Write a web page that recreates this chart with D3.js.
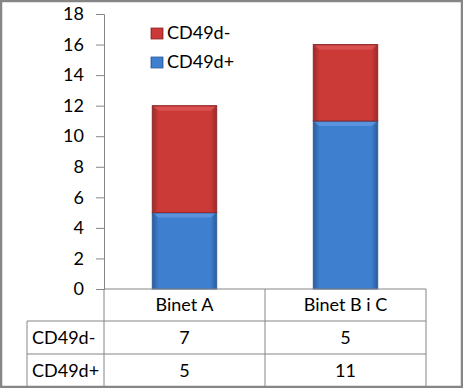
<!DOCTYPE html>
<html>
<head>
<meta charset="utf-8">
<script src="https://cdn.jsdelivr.net/npm/d3@7"></script>
<style>
  body { margin: 0; background: #fff; }
  text { font-family: Lato, "Open Sans", sans-serif; fill: #000; }
</style>
</head>
<body>
<script>
// data
const categories = ["Binet A", "Binet B i C"];
const seriesNames = ["CD49d+", "CD49d-"];
const cd49dPlus = [5, 11];
const cd49dMinus = [7, 5];
const yTicks = [0, 2, 4, 6, 8, 10, 12, 14, 16, 18];

const W = 463, H = 388;
const plotL = 104, plotR = 426, plotT = 14, plotB = 289;

var svg = d3.select("body").append("svg")
  .attr("width", W).attr("height", H);

// frame
svg.append("rect").attr("x", 1).attr("y", 1).attr("width", W - 2).attr("height", H - 2)
  .attr("fill", "#fff").attr("stroke", "#868686").attr("stroke-width", 2.5);

// gradients
var defs = svg.append("defs");
function grad(id, edge, mid) {
  var g = defs.append("linearGradient").attr("id", id)
    .attr("x1", 0).attr("x2", 1).attr("y1", 0).attr("y2", 0);
  g.append("stop").attr("offset", "0%").attr("stop-color", edge);
  g.append("stop").attr("offset", "10%").attr("stop-color", mid);
  g.append("stop").attr("offset", "90%").attr("stop-color", mid);
  g.append("stop").attr("offset", "100%").attr("stop-color", edge);
}
grad("gBlue", "#2b5c9c", "#3f7fcf");
grad("gRed", "#9c2b2b", "#cc3a37");

var x = d3.scaleBand().domain(categories).range([plotL, plotR]).paddingInner(0).paddingOuter(0);
var y = d3.scaleLinear().domain([0, 18]).range([plotB, plotT]);

// y axis
var yAxis = d3.axisLeft(y).tickValues(yTicks).tickSize(8).tickPadding(12);
var ga = svg.append("g").attr("transform", "translate(" + plotL + ",0)").call(yAxis);
ga.select(".domain").attr("stroke", "#868686");
ga.selectAll(".tick line").attr("stroke", "#868686");
ga.selectAll(".tick text").attr("font-size", 18).attr("font-family", "Lato, sans-serif");

// stacked bars
var stackData = categories.map((c, i) => ({ cat: c, "CD49d+": cd49dPlus[i], "CD49d-": cd49dMinus[i] }));
var stack = d3.stack().keys(seriesNames)(stackData);
var fills = { "CD49d+": "url(#gBlue)", "CD49d-": "url(#gRed)" };
var bw = x.bandwidth() * 0.4;

stack.forEach(function (s) {
  var g = svg.append("g");
  g.selectAll("rect").data(s).enter().append("rect")
    .attr("x", d => x(d.data.cat) + (x.bandwidth() - bw) / 2)
    .attr("y", d => y(d[1]))
    .attr("width", bw)
    .attr("height", d => y(d[0]) - y(d[1]))
    .attr("fill", fills[s.key])
    .attr("stroke", s.key === "CD49d+" ? "#2f5f9a" : "#8f2a2a")
    .attr("stroke-width", 1);
  // top bevel highlight
  g.selectAll("path").data(s).enter().append("path")
    .attr("d", function (d) {
      var x0 = x(d.data.cat) + (x.bandwidth() - bw) / 2, y0 = y(d[1]);
      return "M" + (x0 + 1) + "," + (y0 + 1) + "L" + (x0 + bw - 1) + "," + (y0 + 1) +
        "L" + (x0 + bw - 6) + "," + (y0 + 5) + "L" + (x0 + 6) + "," + (y0 + 5) + "Z";
    })
    .attr("fill", s.key === "CD49d+" ? "#6aa2e6" : "#e06060")
    .attr("opacity", 0.6);
});

// legend
var legend = [{ name: "CD49d-", fill: "url(#gRed)", y: 39 }, { name: "CD49d+", fill: "url(#gBlue)", y: 68 }];
var lg = svg.append("g").selectAll("g").data(legend).enter().append("g");
lg.append("rect").attr("x", 151).attr("y", d => d.y - 11).attr("width", 12).attr("height", 11)
  .attr("fill", d => d.fill).attr("stroke", d => d.name === "CD49d+" ? "#2f5f9a" : "#8f2a2a")
  .attr("stroke-width", 0.8);
lg.append("text").attr("x", 167).attr("y", d => d.y).attr("font-size", 18).text(d => d.name);

// data table
var tableLeft = 27;
var grid = svg.append("g").attr("stroke", "#868686").attr("stroke-width", 1).attr("fill", "none");
grid.append("line").attr("x1", plotL).attr("x2", plotR).attr("y1", plotB).attr("y2", plotB);
[321, 354].forEach(yy => grid.append("line").attr("x1", tableLeft).attr("x2", plotR).attr("y1", yy).attr("y2", yy));
grid.append("line").attr("x1", tableLeft).attr("x2", tableLeft).attr("y1", 321).attr("y2", 386);
[plotL, x(categories[1]), plotR].forEach(xx =>
  grid.append("line").attr("x1", xx).attr("x2", xx).attr("y1", plotB).attr("y2", 386));

svg.append("g").selectAll("text").data(categories).enter().append("text")
  .attr("x", d => x(d) + x.bandwidth() / 2).attr("y", 311)
  .attr("text-anchor", "middle").attr("font-size", 18).text(d => d);

var rows = [{ name: "CD49d-", vals: cd49dMinus, y: 344 }, { name: "CD49d+", vals: cd49dPlus, y: 377 }];
rows.forEach(function (r) {
  svg.append("text").attr("x", 32).attr("y", r.y).attr("font-size", 18).text(r.name);
  svg.append("g").selectAll("text").data(r.vals).enter().append("text")
    .attr("x", (d, i) => x(categories[i]) + x.bandwidth() / 2).attr("y", r.y)
    .attr("text-anchor", "middle").attr("font-size", 18).text(d => d);
});
</script>
</body>
</html>
